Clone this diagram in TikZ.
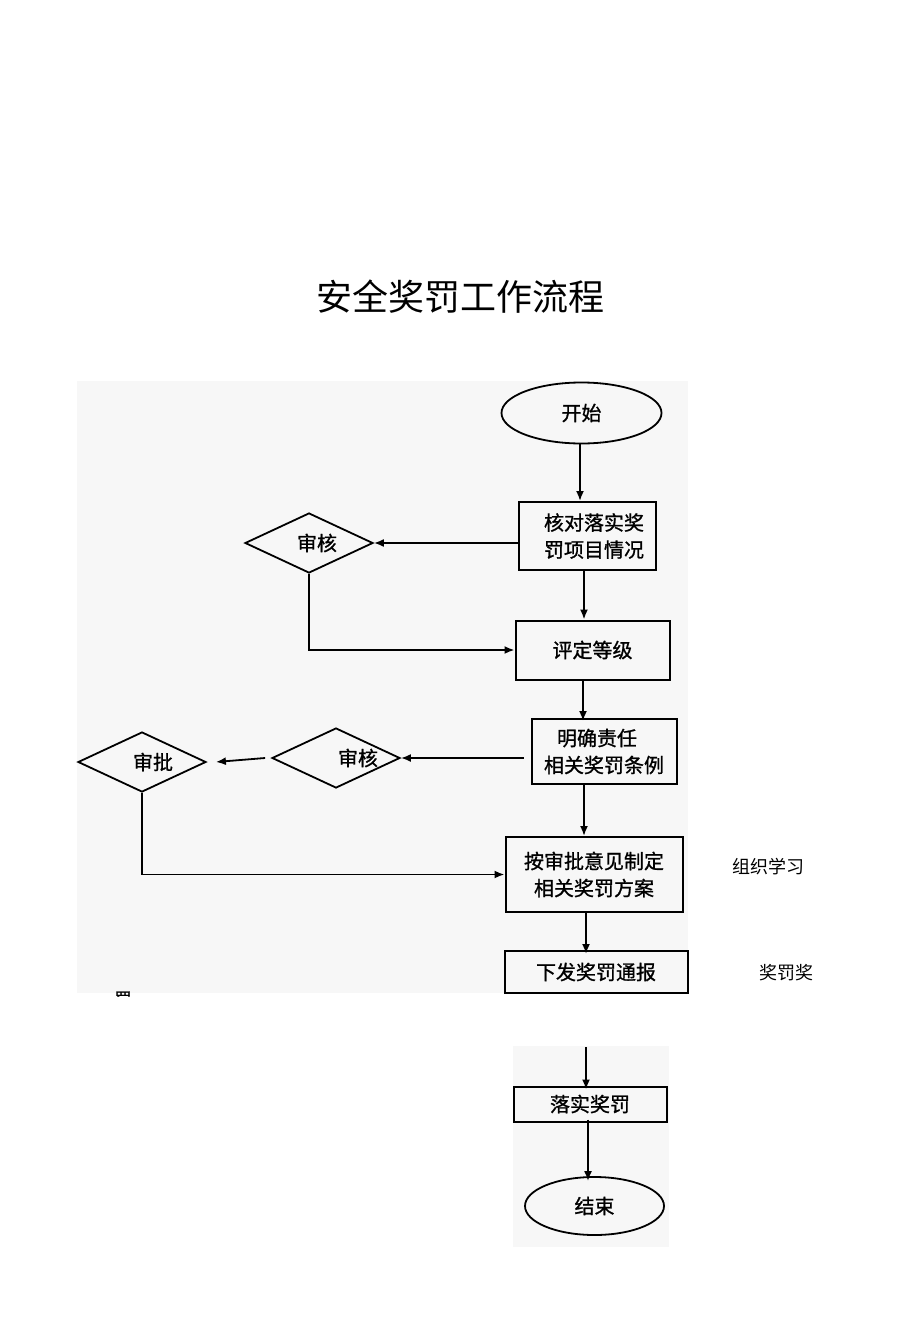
\documentclass[tikz,border=0pt]{standalone}
\usepackage{fontspec}
\setmainfont{Noto Sans CJK SC}
\newfontfamily\chartfont{Noto Sans CJK SC}[FakeBold=1]
\usepackage{tikz}
\usetikzlibrary{shapes.geometric, arrows.meta, positioning}
\definecolor{panelgray}{RGB}{247,247,247}

\tikzset{
  flowbox/.style={draw, line width=2pt, align=center, inner sep=0pt,
    font=\chartfont\fontsize{20}{27}\selectfont},
  decision/.style={draw, diamond, line width=1.8pt, inner sep=0pt,
    minimum width=128pt, minimum height=60pt},
  decisiontext/.style={font=\chartfont\fontsize{20}{24}\selectfont},
  terminal/.style={draw, ellipse, line width=1.8pt, inner sep=0pt,
    font=\chartfont\fontsize{20}{24}\selectfont},
  flowarrow/.style={line width=1.8pt, -{Latex[length=10pt, width=8pt]}}
}

\begin{document}
\begin{tikzpicture}[x=1pt, y=-1pt]
  \useasboundingbox (0,0) rectangle (920,1340);

  % grey panels behind the chart
  \fill[panelgray] (77,381) rectangle (688,993);
  \fill[panelgray] (513,1046) rectangle (669,1247);

  \node[font=\fontsize{36}{40}\selectfont] (title) at (460,297) {安全奖罚工作流程};

  % main column
  \node[terminal, minimum width=160pt, minimum height=61pt] (start) at (581.5,413) {开始};
  \node[flowbox, minimum width=137pt, minimum height=68pt] (check) at (587,536)
    {\hspace*{14pt}核对落实奖\\\hspace*{14pt}罚项目情况};
  \node[flowbox, minimum width=154pt, minimum height=59pt] (grade) at (592.5,650) {评定等级};
  \node[flowbox, minimum width=145pt, minimum height=65pt] (duty) at (604,751.5)
    {明确责任\hspace*{14pt}\\相关奖罚条例};
  \node[flowbox, minimum width=177pt, minimum height=75pt] (plan) at (594,874.5)
    {按审批意见制定\\相关奖罚方案};
  \node[flowbox, minimum width=183pt, minimum height=42pt] (notice) at (596,972) {下发奖罚通报};
  \node[flowbox, minimum width=153pt, minimum height=35pt] (carry) at (590,1104) {落实奖罚};
  \node[terminal, minimum width=139pt, minimum height=58pt] (stop) at (594.5,1206) {结束};

  % side checks
  \node[decision, label={[decisiontext, xshift=8pt]center:审核}] (review1) at (309,543) {};
  \node[decision, label={[decisiontext, xshift=22pt]center:审核}] (review2) at (336,758) {};
  \node[decision, label={[decisiontext, xshift=11pt]center:审批}] (approve) at (142,762) {};

  % notes beside the chart
  \node[font=\fontsize{18}{20}\selectfont] (study) at (768,867) {组织学习};
  \node[font=\fontsize{18}{20}\selectfont] (note) at (786,973) {奖罚奖};
  \begin{scope}
    \clip (105,985) rectangle (140,996);
    \node[font=\chartfont\fontsize{17}{20}\selectfont] (cut) at (123,999) {罚};
  \end{scope}

  \coordinate (resume) at (586,1047);

  % connectors
  \draw[flowarrow] (start.south -| 580,0) -- (check.north -| 580,0);
  \draw[flowarrow] (check.west |- review1.east) -- (review1.east);
  \draw[flowarrow] (check.south -| 584,0) -- (grade.north -| 584,0);
  \draw[flowarrow] (review1.south) |- (grade.west);
  \draw[flowarrow] (grade.south -| 583,0) -- ([yshift=-3pt]duty.north -| 583,0);
  \draw[flowarrow] ([xshift=-7pt]duty.west |- review2.east) -- (review2.east);
  \draw[flowarrow] ([xshift=-6pt]review2.west) -- ([xshift=9pt]approve.east);
  \draw[flowarrow] (duty.south -| 584,0) -- (plan.north -| 584,0);
  \draw[flowarrow] (approve.south) |- (plan.west);
  \draw[flowarrow] (plan.south -| 586,0) -- ([yshift=-4pt]notice.north -| 586,0);
  \draw[flowarrow] (resume) -- ([yshift=-4pt]carry.north -| resume);
  \draw[flowarrow] ([yshift=3pt]carry.south -| 588,0) -- ([yshift=-5pt]stop.north -| 588,0);
\end{tikzpicture}
\end{document}
